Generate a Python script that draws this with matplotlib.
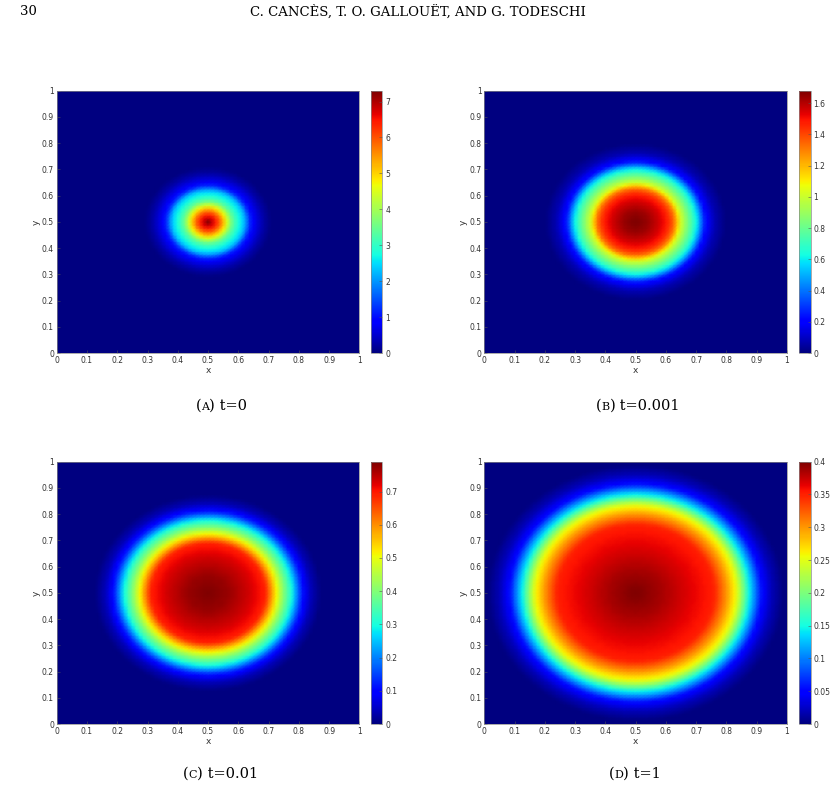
import numpy as np
import matplotlib
matplotlib.use("Agg")
import matplotlib.pyplot as plt

# Radial profiles (distance from centre, value)
r_a = [0.0, 0.02, 0.04, 0.06, 0.08, 0.10, 0.12, 0.135, 0.15, 0.18, 0.21, 0.8]
v_a = [7.3, 6.6, 5.8, 4.6, 3.4, 2.8, 2.3, 1.3, 0.8, 0.3, 0.0, 0.0]

r_b = [0.0, 0.04, 0.08, 0.11, 0.13, 0.145, 0.17, 0.20, 0.23, 0.26, 0.30, 0.8]
v_b = [1.68, 1.64, 1.55, 1.45, 1.30, 1.05, 0.85, 0.62, 0.22, 0.08, 0.0, 0.0]

r_c = [0.0, 0.07, 0.14, 0.19, 0.21, 0.23, 0.25, 0.276, 0.30, 0.315, 0.34, 0.375, 0.8]
v_c = [0.79, 0.77, 0.73, 0.69, 0.59, 0.49, 0.40, 0.30, 0.17, 0.10, 0.04, 0.0, 0.0]

r_d = [0.0, 0.09, 0.18, 0.26, 0.30, 0.335, 0.355, 0.373, 0.395, 0.417, 0.45, 0.49, 0.8]
v_d = [0.40, 0.385, 0.365, 0.35, 0.30, 0.25, 0.20, 0.15, 0.10, 0.05, 0.02, 0.0, 0.0]

cbar_ticks_a = [0, 1, 2, 3, 4, 5, 6, 7]
cbar_labels_a = ["0", "1", "2", "3", "4", "5", "6", "7"]
cbar_ticks_b = [0, 0.2, 0.4, 0.6, 0.8, 1, 1.2, 1.4, 1.6]
cbar_labels_b = ["0", "0.2", "0.4", "0.6", "0.8", "1", "1.2", "1.4", "1.6"]
cbar_ticks_c = [0, 0.1, 0.2, 0.3, 0.4, 0.5, 0.6, 0.7]
cbar_labels_c = ["0", "0.1", "0.2", "0.3", "0.4", "0.5", "0.6", "0.7"]
cbar_ticks_d = [0, 0.05, 0.1, 0.15, 0.2, 0.25, 0.3, 0.35, 0.4]
cbar_labels_d = ["0", "0.05", "0.1", "0.15", "0.2", "0.25", "0.3", "0.35", "0.4"]

cap_letters = ["A", "B", "C", "D"]
cap_times = ["t=0", "t=0.001", "t=0.01", "t=1"]
axis_ticks = [0, 0.1, 0.2, 0.3, 0.4, 0.5, 0.6, 0.7, 0.8, 0.9, 1]
axis_labels = ["0", "0.1", "0.2", "0.3", "0.4", "0.5", "0.6", "0.7", "0.8", "0.9", "1"]

# mesh nodes
n = 81
xs = np.linspace(0, 1, n)
X, Y = np.meshgrid(xs, xs)
R = np.hypot(X - 0.5, Y - 0.5)

fig = plt.figure(figsize=(8.35, 7.91), dpi=100)
renderer = fig.canvas.get_renderer()

panels = [
    (r_a, v_a, 7.3, cbar_ticks_a, cbar_labels_a, [0.0679, 0.5537], 0.444, [0.265, 0.488]),
    (r_b, v_b, 1.68, cbar_ticks_b, cbar_labels_b, [0.580, 0.5537], 0.957, [0.764, 0.488]),
    (r_c, v_c, 0.79, cbar_ticks_c, cbar_labels_c, [0.0679, 0.0847], 0.444, [0.264, 0.0228]),
    (r_d, v_d, 0.40, cbar_ticks_d, cbar_labels_d, [0.580, 0.0847], 0.957, [0.760, 0.0228]),
]


def small_caps_caption(cx, cy, letter, rest):
    # "(A) t=0" with the letter in small caps, centred on cx
    parts = [("(", 10.5), (letter, 8), (")", 10.5), (" " + rest, 10.5)]
    widths = []
    for s, fs in parts:
        t = fig.text(0, 0, s, fontsize=fs, family="DejaVu Serif")
        widths.append(t.get_window_extent(renderer).width)
        t.remove()
    W = fig.bbox.width
    x = cx - sum(widths) / W / 2
    for (s, fs), w in zip(parts, widths):
        fig.text(x, cy, s, fontsize=fs, family="DejaVu Serif", ha="left", va="baseline")
        x += w / W


for i, (rr, vv, vmax, cticks, clabels, pos, cleft, cap) in enumerate(panels):
    ax = fig.add_axes([pos[0], pos[1], 0.3625, 0.3316])
    Z = np.interp(R, rr, vv)
    pc = ax.pcolormesh(X, Y, Z, cmap="jet", vmin=0, vmax=vmax, shading="gouraud")
    ax.set_xlim(0, 1)
    ax.set_ylim(0, 1)
    ax.set_xticks(axis_ticks)
    ax.set_yticks(axis_ticks)
    ax.set_xticklabels(axis_labels)
    ax.set_yticklabels(axis_labels)
    ax.tick_params(direction="in", length=2, width=0.4, labelsize=5.5,
                   colors="#555555", labelcolor="#333333", pad=2)
    for s in ax.spines.values():
        s.set_color("#888888")
        s.set_linewidth(0.5)
    ax.set_xlabel("x", fontsize=6.5, color="#333333", labelpad=1)
    ax.set_ylabel("y", fontsize=6.5, color="#333333", labelpad=1)

    cax = fig.add_axes([cleft, pos[1], 0.014, 0.3316])
    cb = fig.colorbar(pc, cax=cax, ticks=cticks)
    cb.set_ticklabels(clabels)
    cb.ax.tick_params(direction="in", length=2, width=0.4, labelsize=5.5,
                      colors="#555555", labelcolor="#333333", pad=2)
    cb.outline.set_linewidth(0.5)
    cb.outline.set_edgecolor("#888888")

    small_caps_caption(cap[0], cap[1] - 0.006, cap_letters[i], cap_times[i])

fig.text(0.024, 0.985, "30", ha="left", va="center", fontsize=9.5, family="DejaVu Serif")
fig.text(0.5, 0.985, "C. CANCÈS, T. O. GALLOUËT, AND G. TODESCHI", ha="center",
         va="center", fontsize=9.5, family="DejaVu Serif")

fig.savefig("out.png", dpi=100)
